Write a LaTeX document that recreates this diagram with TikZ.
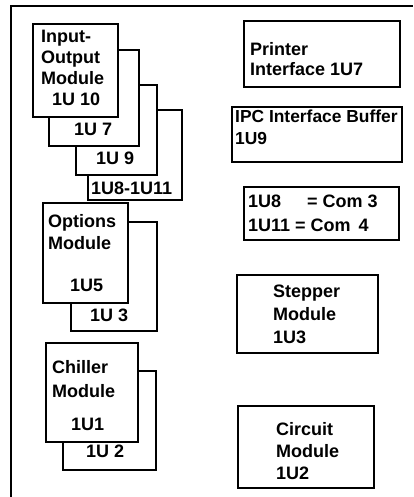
\documentclass[tikz,border=0pt]{standalone}
\usepackage{fontspec}
\setmainfont{Liberation Sans}
\usepackage{tikz}
\usetikzlibrary{positioning}

\begin{document}
\begin{tikzpicture}[x=1pt,y=-1pt,
    modbox/.style={draw,line width=2.4pt,fill=white},
    lbl/.style={anchor=north west,inner sep=0pt,align=left,
        font=\fontsize{18}{21}\selectfont\bfseries}]
    \useasboundingbox (0,0) rectangle (413,497);
    % outer frame (open on the right and bottom)
    \draw[line width=2.8pt] (11,497) -- (11,6) -- (413,6);

    % Input-Output stack
    \begin{scope}
        \draw[modbox] (88,110) rectangle (182,200); % 1U8-1U11
        \draw[modbox] (76,85) rectangle (157,175); % 1U9
        \draw[modbox] (49,50) rectangle (139,146); % 1U7
        \draw[modbox] (33,24) rectangle (118,117); % 1U10
        \node[lbl] (iolbl) at (41,30) {Input-\\Output\\Module\\\hspace*{11pt}1U 10};
        \node[lbl] (u7lbl) at (74,123) {1U 7};
        \node[lbl] (u9lbl) at (96,152) {1U 9};
        \node[lbl] (u811lbl) at (91,182) {1U8-1U11};
    \end{scope}

    % Options stack
    \begin{scope}
        \draw[modbox] (71,222) rectangle (157,331); % 1U3
        \draw[modbox] (43,203) rectangle (128,303); % 1U5
        \node[lbl,font=\fontsize{18}{22}\selectfont\bfseries] (optlbl) at (48,214)
            {Options\\Module\\[20pt]\hspace*{22pt}1U5};
        \node[lbl] (u3lbl) at (90,309) {1U 3};
    \end{scope}

    % Chiller stack
    \begin{scope}
        \draw[modbox] (63,371) rectangle (156,470); % 1U2
        \draw[modbox] (46,343) rectangle (138,442); % 1U1
        \node[lbl,font=\fontsize{18}{24}\selectfont\bfseries] (chllbl) at (52,360)
            {Chiller\\Module\\[9pt]\hspace*{19pt}1U1};
        \node[lbl] (u2lbl) at (86,445) {1U 2};
    \end{scope}

    % right column
    \draw[modbox] (244,21) rectangle (400,87); % printer
    \node[lbl,font=\fontsize{18}{20}\selectfont\bfseries] (prnlbl) at (250,42)
        {Printer\\Interface 1U7};
    \draw[modbox] (232,107) rectangle (402,162); % IPC
    \node[lbl,font=\fontsize{17.4}{22}\selectfont\bfseries] (ipclbl) at (235,110)
        {IPC Interface Buffer\\1U9};
    \draw[modbox] (244,187) rectangle (399,240); % com ports
    \node[lbl,font=\fontsize{18}{24}\selectfont\bfseries] (comlbl) at (248,195)
        {1U8\hspace{26pt}= Com 3\\1U11 = Com\hspace{8pt}4};
    \draw[modbox] (237,275) rectangle (378,353); % stepper
    \node[lbl,font=\fontsize{18}{23}\selectfont\bfseries] (steplbl) at (273,285)
        {Stepper\\Module\\1U3};
    \draw[modbox] (238,406) rectangle (374,488); % circuit
    \node[lbl,font=\fontsize{18}{22}\selectfont\bfseries] (cirlbl) at (276,422)
        {Circuit\\Module\\1U2};
\end{tikzpicture}
\end{document}
